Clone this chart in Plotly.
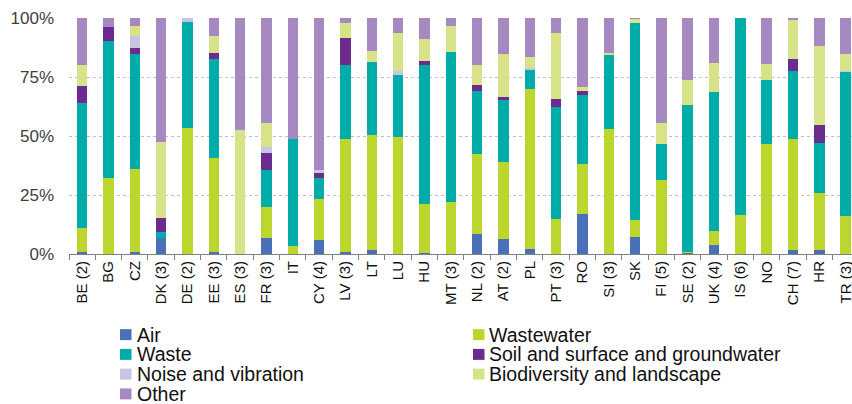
import plotly.graph_objects as go

countries = ["BE (2)", "BG", "CZ", "DK (3)", "DE (2)", "EE (3)", "ES (3)", "FR (3)", "IT", "CY (4)",
             "LV (3)", "LT", "LU", "HU", "MT (3)", "NL (2)", "AT (2)", "PL", "PT (3)", "RO",
             "SI (3)", "SK", "FI (5)", "SE (2)", "UK (4)", "IS (6)", "NO", "CH (7)", "HR", "TR (3)"]

air        = [1.0, 0, 1.0, 6.6, 0, 1.0, 0, 6.6, 0, 6.1, 0.8, 1.8, 0, 0.5, 0, 8.5, 6.4, 2.0, 0, 17.1,
              0, 7.3, 0, 0.5, 3.8, 0, 0, 1.7, 1.7, 0]
wastewater = [10.1, 32.3, 34.9, 0, 53.2, 39.5, 0, 13.3, 3.3, 17.3, 48.1, 48.8, 49.4, 20.8, 22.2, 33.7, 32.7, 67.8, 14.8, 20.9,
              52.8, 7.1, 31.4, 0.5, 5.8, 16.4, 46.7, 47.2, 24.3, 16.0]
waste      = [52.7, 58.1, 49.0, 2.8, 45.1, 42.1, 0, 15.8, 45.3, 8.7, 31.1, 30.8, 26.6, 58.9, 63.5, 27.0, 26.0, 8.2, 47.5, 29.4,
              31.4, 83.6, 15.3, 62.0, 58.9, 83.6, 26.9, 28.8, 20.9, 61.3]
soil       = [7.5, 5.9, 2.4, 6.0, 0, 2.4, 0, 7.1, 0, 2.2, 11.7, 0, 0, 1.6, 0, 2.3, 1.3, 0, 3.2, 1.7,
              0, 0, 0, 0, 0, 0, 0, 4.9, 7.8, 0]
noise      = [0, 0, 5.1, 0, 1.7, 0, 0, 2.5, 0, 1.3, 0, 0, 1.7, 0, 0, 0, 0, 0.8, 0, 0,
              0, 0, 0, 0, 0, 0, 0, 0, 0, 0.4]
biodiv     = [8.9, 0, 4.2, 32.2, 0, 7.5, 52.5, 10.1, 0, 0, 6.0, 4.8, 15.8, 9.3, 10.9, 8.6, 18.3, 4.5, 28.0, 1.5,
              1.0, 1.6, 8.9, 10.7, 12.6, 0, 7.0, 16.4, 33.6, 6.9]
other      = [19.8, 3.7, 3.4, 52.4, 0, 7.5, 47.5, 44.6, 51.4, 64.4, 2.3, 13.8, 6.5, 8.9, 3.4, 19.9, 15.3, 16.7, 6.5, 29.4,
              14.8, 0.4, 44.4, 26.3, 18.9, 0, 19.4, 1.0, 11.7, 15.4]

series_names = ["Air", "Wastewater", "Waste", "Soil and surface and groundwater",
                "Noise and vibration", "Biodiversity and landscape", "Other"]
series_values = [air, wastewater, waste, soil, noise, biodiv, other]
series_colors = ["#4a70b8", "#bdd62e", "#00aca8", "#6c2b8f", "#c4c6e3", "#d7e386", "#a689c1"]

y_tickvals = [0, 25, 50, 75, 100]
y_ticktext = ["0%", "25%", "50%", "75%", "100%"]

W, H = 852, 404
L, T = 69, 18
PH = 236.5
B = H - T - PH
R = 0
PW = W - L - R
X_UNIT = 26.33
x_hi = -0.5 + PW / X_UNIT

fig = go.Figure()
for name, vals, col in zip(series_names, series_values, series_colors):
    fig.add_trace(go.Bar(x=countries, y=vals, name=name, marker_color=col,
                         marker_line_width=0, width=0.4, showlegend=False))

# convert screen pixels to paper coordinates
def px_x(px):
    return (px - L) / PW

def px_y(py):
    return (H - B - py) / PH

shapes = []
annotations = []
col_marker_x = [120, 473]
col_text_x = [134.5, 486.5]
row_y = [335.3, 355.1, 374.9, 394.7]
for i, (name, col) in enumerate(zip(series_names, series_colors)):
    c = i % 2
    r = i // 2
    cy = row_y[r]
    mx = col_marker_x[c]
    shapes.append(dict(type="rect", xref="paper", yref="paper",
                       x0=px_x(mx), x1=px_x(mx + 11.5), y0=px_y(cy - 5.5), y1=px_y(cy + 5.5),
                       fillcolor=col, line=dict(width=0)))
    annotations.append(dict(xref="paper", yref="paper", x=px_x(col_text_x[c]), y=px_y(cy),
                            xanchor="left", yanchor="middle", text=name, showarrow=False,
                            font=dict(family="Liberation Sans, Arial", size=19.5, color="#111111")))

fig.update_layout(
    width=W, height=H,
    margin=dict(l=L, r=R, t=T, b=B, pad=0, autoexpand=False),
    barmode="stack",
    plot_bgcolor="white", paper_bgcolor="white",
    font=dict(family="Liberation Sans, Arial", color="#222222"),
    shapes=shapes,
    annotations=annotations,
    showlegend=False,
)
fig.update_xaxes(
    type="category",
    categoryorder="array", categoryarray=countries,
    range=[-0.5, x_hi],
    tickson="boundaries",
    ticks="outside", ticklen=5, tickcolor="#808080", tickwidth=1,
    showline=True, linecolor="#808080", linewidth=1,
    showgrid=False,
    tickangle=-90,
    tickfont=dict(size=15, color="#111111"),
    automargin=False,
)
fig.update_yaxes(
    range=[0, 100],
    tickvals=y_tickvals, ticktext=y_ticktext,
    showgrid=True, gridcolor="#bfbfbf", griddash="dot", gridwidth=1,
    zeroline=False, showline=False,
    ticks="", ticklabelstandoff=14,
    tickfont=dict(size=17, color="#404040"),
    automargin=False,
)

fig.write_html("out.html",
               config={"displayModeBar": False},
               post_script="document.body.style.margin='0';document.body.style.overflow='hidden';")
